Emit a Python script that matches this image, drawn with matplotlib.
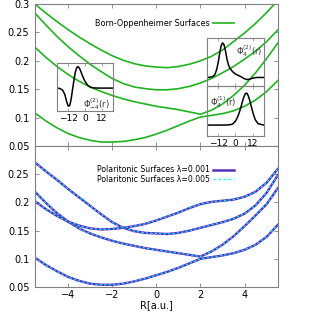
import numpy as np
import matplotlib
matplotlib.use('Agg')
import matplotlib.pyplot as plt
from matplotlib.lines import Line2D

plt.rcParams['mathtext.default'] = 'regular'

# ---------------- data ----------------
R = [-5.5, -5.0, -4.5, -4.0, -3.5, -3.0, -2.5, -2.0, -1.5, -1.0, -0.5, 0.0,
     0.5, 1.0, 1.5, 2.0, 2.5, 3.0, 3.5, 4.0, 4.5, 5.0, 5.5]

# Born-Oppenheimer surfaces (top panel)
bo_1 = [0.300, 0.284, 0.269, 0.255, 0.242, 0.230, 0.219, 0.209, 0.201, 0.195, 0.191, 0.189,
        0.188, 0.190, 0.194, 0.200, 0.208, 0.219, 0.234, 0.249, 0.266, 0.285, 0.306]
bo_2 = [0.284, 0.263, 0.243, 0.225, 0.209, 0.194, 0.181, 0.169, 0.160, 0.154, 0.151, 0.149,
        0.149, 0.151, 0.155, 0.161, 0.169, 0.179, 0.190, 0.203, 0.217, 0.234, 0.254]
bo_3 = [0.224, 0.206, 0.190, 0.176, 0.164, 0.154, 0.146, 0.139, 0.133, 0.128, 0.124, 0.120,
        0.117, 0.114, 0.110, 0.106, 0.113, 0.124, 0.139, 0.157, 0.179, 0.204, 0.231]
bo_4 = [0.108, 0.094, 0.082, 0.072, 0.065, 0.060, 0.057, 0.057, 0.058, 0.061, 0.065, 0.071,
        0.078, 0.086, 0.094, 0.101, 0.104, 0.107, 0.112, 0.120, 0.131, 0.146, 0.165]

# polaritonic surfaces (bottom panel), lambda=0.001 and 0.005 coincide
pol_1 = [0.271, 0.255, 0.240, 0.224, 0.209, 0.194, 0.179, 0.165, 0.155, 0.149, 0.146, 0.145,
         0.144, 0.146, 0.150, 0.155, 0.160, 0.165, 0.171, 0.180, 0.195, 0.217, 0.248]
pol_2 = [0.219, 0.199, 0.181, 0.166, 0.154, 0.145, 0.138, 0.132, 0.127, 0.123, 0.119, 0.116,
         0.113, 0.110, 0.107, 0.104, 0.113, 0.125, 0.140, 0.158, 0.177, 0.197, 0.225]
pol_3 = [0.202, 0.188, 0.176, 0.166, 0.159, 0.154, 0.152, 0.153, 0.155, 0.158, 0.162, 0.168,
         0.175, 0.182, 0.190, 0.197, 0.201, 0.203, 0.205, 0.210, 0.219, 0.235, 0.259]
pol_4 = [0.102, 0.089, 0.078, 0.068, 0.061, 0.056, 0.054, 0.054, 0.056, 0.060, 0.065, 0.071,
         0.077, 0.084, 0.092, 0.100, 0.103, 0.106, 0.110, 0.116, 0.125, 0.139, 0.160]

# inset wavefunctions
r_left = [-20, -18, -16, -14.5, -13, -12, -11, -10, -9, -8, -7, -6, -5, -4, -3, -2, -1, 0,
          2, 4, 6, 10, 20]
phi_left = [0.0, -0.02, -0.1, -0.3, -0.68, -0.86, -0.84, -0.55, -0.1, 0.35, 0.75, 0.97,
            1.03, 0.95, 0.8, 0.62, 0.46, 0.32, 0.13, 0.04, 0.01, 0.0, 0.0]
r_top = [-20, -17, -15, -14, -13, -12, -11, -10, -9, -8, -7, -6, -5, -4, -3, -2, 0, 2, 4, 6,
         8, 10, 12, 15, 20]
phi_top = [0.0, 0.01, 0.05, 0.12, 0.25, 0.45, 0.7, 0.92, 1.0, 0.95, 0.78, 0.55, 0.38, 0.28,
           0.22, 0.17, 0.1, 0.06, 0.02, -0.03, -0.06, -0.05, -0.02, 0.0, 0.0]
r_bot = [-20, -8, -4, -2, 0, 1, 2, 3, 4, 5, 6, 7, 8, 9, 10, 11, 12, 13, 14, 16, 20]
phi_bot = [0.0, 0.0, 0.01, 0.03, 0.12, 0.2, 0.3, 0.43, 0.58, 0.74, 0.88, 0.98, 0.99, 0.91,
           0.77, 0.6, 0.43, 0.28, 0.16, 0.04, 0.0]

xticks = [-4, -2, 0, 2, 4]
yticks_top = [0.05, 0.1, 0.15, 0.2, 0.25, 0.3]
yticks_bot = [0.05, 0.1, 0.15, 0.2, 0.25]
inset_ticks = [-12, 0, 12]

GREEN = '#1fb41f'
PURPLE = '#5a2cc0'
CYAN = '#00ffff'
FRAME = '#808080'

# ---------------- figure ----------------
fig = plt.figure(figsize=(3.12, 3.12), dpi=100)
ax1 = fig.add_axes([0.112, 0.532, 0.778, 0.455])
ax2 = fig.add_axes([0.112, 0.080, 0.778, 0.452])


def style_main(ax, yt):
    ax.set_xlim(-5.5, 5.5)
    ax.set_ylim(0.05, 0.3)
    ax.set_xticks(xticks)
    ax.set_yticks(yt)
    ax.set_yticklabels([f'{v:g}' for v in yt])
    ax.tick_params(direction='in', length=3, width=0.6, color=FRAME,
                   top=True, right=True, labelsize=7)
    ax.tick_params(axis='y', pad=4)
    ax.tick_params(axis='x', pad=2)
    for s in ax.spines.values():
        s.set_color(FRAME)
        s.set_linewidth(0.8)


style_main(ax1, yticks_top)
ax1.tick_params(labelbottom=False)
for curve in (bo_1, bo_2, bo_3, bo_4):
    ax1.plot(R, curve, color=GREEN, lw=1.2)
ax1.legend([Line2D([], [], color=GREEN, lw=1.2)], ['Born-Oppenheimer Surfaces'],
           loc='center right', bbox_to_anchor=(0.82, 0.864), frameon=False,
           markerfirst=False, fontsize=5.8, handlelength=2.6, handletextpad=0.4,
           borderpad=0, borderaxespad=0)

style_main(ax2, yticks_bot)
ax2.set_yticks([0.3], minor=True)
ax2.tick_params(which='minor', direction='in', length=3, width=0.6, color=FRAME,
                right=True)
for curve in (pol_1, pol_2, pol_3, pol_4):
    ax2.plot(R, curve, color=PURPLE, lw=1.7)
    ax2.plot(R, curve, color=CYAN, lw=0.8, dashes=(2, 2))
ax2.set_xlabel('R[a.u.]', fontsize=7, labelpad=0)
h1 = Line2D([], [], color=PURPLE, lw=1.8)
h2 = Line2D([], [], color=CYAN, lw=0.9, dashes=(2, 2))
ax2.legend([h1, h2], ['Polaritonic Surfaces λ=0.001', 'Polaritonic Surfaces λ=0.005'],
           loc='center right', bbox_to_anchor=(0.82, 0.797), frameon=False,
           markerfirst=False, fontsize=5.6, handlelength=2.7, handletextpad=0.4,
           borderpad=0, borderaxespad=0, labelspacing=0.1)


# ---------------- insets ----------------
def make_inset(rect, r, phi, ylim, labels):
    ax = fig.add_axes(rect)
    ax.patch.set_alpha(0)
    ax.plot(r, phi, color='black', lw=1.1)
    ax.set_xlim(-20, 20)
    ax.set_ylim(*ylim)
    ax.set_xticks(inset_ticks)
    ax.set_yticks([])
    ax.tick_params(direction='in', length=2, width=0.5, color=FRAME, top=True,
                   labelsize=6.5, pad=2, labelbottom=labels)
    for s in ax.spines.values():
        s.set_color(FRAME)
        s.set_linewidth(0.8)
    return ax


axl = make_inset([0.183, 0.644, 0.179, 0.154], r_left, phi_left, (-1.1, 1.2), True)
axl.text(0.95, 0.14, r'$\Phi_{-4}^{(2)}(r)$', transform=axl.transAxes, fontsize=6,
         ha='right', va='center', color='#333333')

axt = make_inset([0.663, 0.724, 0.183, 0.154], r_top, phi_top, (-0.25, 1.14), False)
axt.text(0.97, 0.72, r'$\Phi_{4}^{(2)}(r)$', transform=axt.transAxes, fontsize=6,
         ha='right', va='center', color='#333333')

axb = make_inset([0.663, 0.564, 0.183, 0.160], r_bot, phi_bot, (-0.34, 1.21), True)
axb.text(0.05, 0.68, r'$\Phi_{4}^{(1)}(r)$', transform=axb.transAxes, fontsize=6,
         ha='left', va='center', color='#333333')

fig.savefig('out.png', dpi=100)
